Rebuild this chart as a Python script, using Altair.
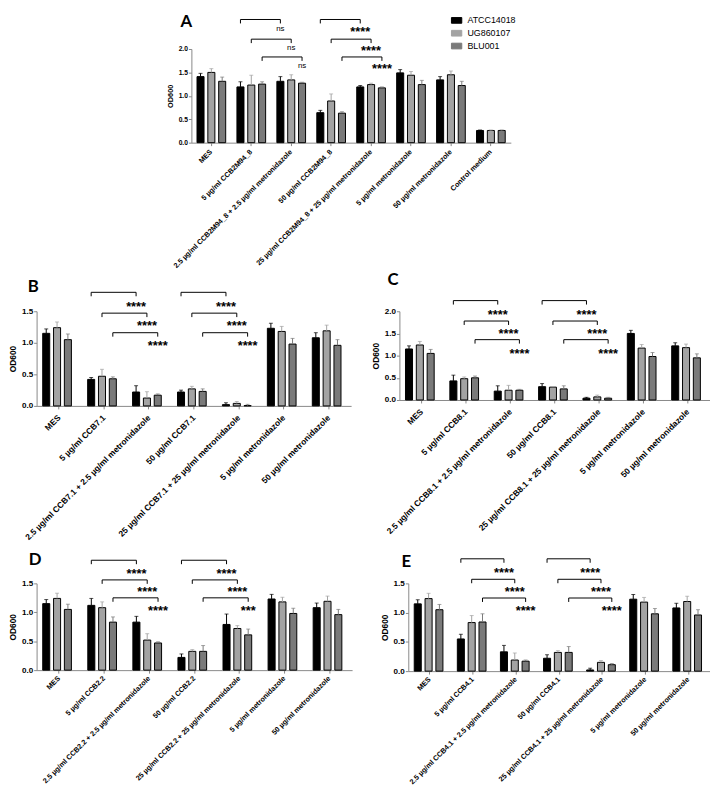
import altair as alt
import pandas as pd

series = ["ATCC14018", "UG860107", "BLU001"]
colors = ["#000000", "#a3a3a3", "#7a7a7a"]

# ---------- Panel A ----------
A_cats = ["MES", "5 µg/ml CCB2M94_8", "2.5 µg/ml CCB2M94_8 + 2.5 µg/ml metronidazole",
          "50 µg/ml CCB2M94_8", "25 µg/ml CCB2M94_8 + 25 µg/ml metronidazole",
          "5 µg/ml metronidazole", "50 µg/ml metronidazole", "Control medium"]
A_atcc = [1.41, 1.19, 1.31, 0.64, 1.19, 1.49, 1.34, 0.26]
A_ug = [1.50, 1.23, 1.34, 0.89, 1.24, 1.44, 1.45, 0.26]
A_blu = [1.31, 1.25, 1.27, 0.63, 1.17, 1.24, 1.22, 0.26]
A_atcc_sd = [0.07, 0.11, 0.10, 0.05, 0.03, 0.07, 0.07, 0.01]
A_ug_sd = [0.08, 0.21, 0.11, 0.15, 0.03, 0.08, 0.08, 0.01]
A_blu_sd = [0.09, 0.05, 0.02, 0.03, 0.02, 0.09, 0.09, 0.01]
A_br_level = [2.63, 2.21, 1.83, 2.63, 2.21, 1.83]
A_br_text_level = [2.42, 2.02, 1.64, 2.42, 2.02, 1.64]
A_br_label = ["ns", "ns", "ns", "****", "****", "****"]

# ---------- Panel B ----------
B_cats = ["MES", "5 µg/ml CCB7.1", "2.5 µg/ml CCB7.1 + 2.5 µg/ml metronidazole",
          "50 µg/ml CCB7.1", "25 µg/ml CCB7.1 + 25 µg/ml metronidazole",
          "5 µg/ml metronidazole", "50 µg/ml metronidazole"]
B_atcc = [1.15, 0.42, 0.22, 0.22, 0.02, 1.23, 1.08]
B_ug = [1.24, 0.47, 0.125, 0.27, 0.04, 1.18, 1.19]
B_blu = [1.05, 0.43, 0.17, 0.23, 0.005, 0.98, 0.96]
B_atcc_sd = [0.07, 0.03, 0.10, 0.03, 0.03, 0.08, 0.08]
B_ug_sd = [0.09, 0.11, 0.10, 0.04, 0.03, 0.08, 0.09]
B_blu_sd = [0.09, 0.03, 0.02, 0.04, 0.02, 0.09, 0.09]
B_br_level = [1.80, 1.47, 1.16, 1.80, 1.47, 1.16]
B_br_text_level = [1.62, 1.31, 0.99, 1.62, 1.31, 0.99]
B_br_label = ["****"] * 6

# ---------- Panel C ----------
C_cats = ["MES", "5 µg/ml CCB8.1", "2.5 µg/ml CCB8.1 + 2.5 µg/ml metronidazole",
          "50 µg/ml CCB8.1", "25 µg/ml CCB8.1 + 25 µg/ml metronidazole",
          "5 µg/ml metronidazole", "50 µg/ml metronidazole"]
C_atcc = [1.15, 0.43, 0.20, 0.30, 0.04, 1.50, 1.22]
C_ug = [1.24, 0.48, 0.22, 0.29, 0.07, 1.17, 1.18]
C_blu = [1.05, 0.50, 0.22, 0.25, 0.04, 0.98, 0.95]
C_atcc_sd = [0.07, 0.13, 0.12, 0.07, 0.02, 0.07, 0.07]
C_ug_sd = [0.08, 0.04, 0.11, 0.01, 0.04, 0.08, 0.08]
C_blu_sd = [0.09, 0.04, 0.02, 0.07, 0.02, 0.09, 0.09]
C_br_level = [2.24, 1.78, 1.36, 2.24, 1.78, 1.36]
C_br_text_level = [1.98, 1.55, 1.11, 1.98, 1.55, 1.11]
C_br_label = ["****"] * 6

# ---------- Panel D ----------
D_cats = ["MES", "5 µg/ml CCB2.2", "2.5 µg/ml CCB2.2 + 2.5 µg/ml metronidazole",
          "50 µg/ml CCB2.2", "25 µg/ml CCB2.2 + 25 µg/ml metronidazole",
          "5 µg/ml metronidazole", "50 µg/ml metronidazole"]
D_atcc = [1.15, 1.12, 0.83, 0.22, 0.79, 1.23, 1.08]
D_ug = [1.24, 1.08, 0.52, 0.325, 0.72, 1.18, 1.19]
D_blu = [1.05, 0.83, 0.47, 0.325, 0.61, 0.98, 0.96]
D_atcc_sd = [0.07, 0.12, 0.10, 0.06, 0.18, 0.08, 0.08]
D_ug_sd = [0.09, 0.10, 0.11, 0.03, 0.05, 0.08, 0.09]
D_blu_sd = [0.09, 0.09, 0.02, 0.10, 0.10, 0.09, 0.09]
D_br_level = [1.90, 1.56, 1.25, 1.90, 1.56, 1.25]
D_br_text_level = [1.71, 1.40, 1.07, 1.71, 1.40, 1.07]
D_br_label = ["****"] * 5 + ["***"]

# ---------- Panel E ----------
E_cats = ["MES", "5 µg/ml CCB4.1", "2.5 µg/ml CCB4.1 + 2.5 µg/ml metronidazole",
          "50 µg/ml CCB4.1", "25 µg/ml CCB4.1 + 25 µg/ml metronidazole",
          "5 µg/ml metronidazole", "50 µg/ml metronidazole"]
E_atcc = [1.15, 0.55, 0.33, 0.22, 0.02, 1.23, 1.08]
E_ug = [1.24, 0.83, 0.19, 0.32, 0.15, 1.18, 1.19]
E_blu = [1.05, 0.84, 0.17, 0.32, 0.11, 0.98, 0.96]
E_atcc_sd = [0.07, 0.08, 0.11, 0.06, 0.03, 0.08, 0.08]
E_ug_sd = [0.09, 0.12, 0.12, 0.03, 0.03, 0.08, 0.09]
E_blu_sd = [0.09, 0.14, 0.02, 0.10, 0.02, 0.09, 0.09]
E_br_level = [1.92, 1.57, 1.25, 1.92, 1.57, 1.25]
E_br_text_level = [1.73, 1.41, 1.08, 1.73, 1.41, 1.08]
E_br_label = ["****"] * 6

# brackets: from group -> to group, same series bar
BR_from = [1, 1, 1, 3, 3, 3]
BR_to = [2, 2, 2, 4, 4, 4]
BR_series = [0, 1, 2, 0, 1, 2]

FONT = "Liberation Sans"


def panel(letter, cats, vals, sds, br_level, br_text_level, br_label,
          w, h, ymax, ticks, letter_pos, fs, legend=None):
    xl, yl, tl, lpad = fs
    rows = []
    for ci, c in enumerate(cats):
        for si, s in enumerate(series):
            rows.append(dict(cat=c, series=s, od=vals[si][ci],
                             top=vals[si][ci] + sds[si][ci]))
    df = pd.DataFrame(rows)

    drop = 4.0 / (h / ymax)
    brows, trows = [], []
    for b in range(len(BR_from)):
        s = series[BR_series[b]]
        c1, c2 = cats[BR_from[b]], cats[BR_to[b]]
        lv = br_level[b]
        for o, (c, y) in enumerate([(c1, lv - drop), (c1, lv), (c2, lv), (c2, lv - drop)]):
            brows.append(dict(bid=b, o=o, cat=c, series=s, y=y))
        trows.append(dict(cat=c2, series=s, y=br_text_level[b], label=br_label[b]))
    dfb = pd.DataFrame(brows)
    dft = pd.DataFrame(trows)
    dfs = dft[dft["label"] != "ns"]
    dfn = dft[dft["label"] == "ns"]

    x = alt.X("cat:N", sort=cats,
              scale=alt.Scale(paddingInner=0.2, paddingOuter=0.1),
              axis=alt.Axis(title=None, labelAngle=-45, labelAlign="right",
                            labelBaseline="middle", labelFontSize=xl,
                            labelFontWeight="bold", labelLimit=400,
                            tickSize=3, labelPadding=lpad, grid=False))
    xo = alt.XOffset("series:N", sort=series,
                     scale=alt.Scale(paddingInner=0.35, paddingOuter=0.15))
    yscale = alt.Scale(domain=[0, ymax], nice=False, zero=True)
    yaxis = alt.Axis(title="OD600", titleFontSize=tl, titleFontWeight="bold",
                     values=ticks, format=".1f", labelFontSize=yl,
                     labelFontWeight="bold", grid=False,
                     tickSize=3, labelPadding=1, titlePadding=4)
    y = alt.Y("od:Q", scale=yscale, axis=yaxis)
    cscale = alt.Scale(domain=series, range=colors)
    col = alt.Color("series:N", scale=cscale, sort=series, legend=legend)
    col2 = alt.Color("series:N", scale=cscale, sort=series, legend=None)

    bars = alt.Chart(df).mark_bar(stroke="black", strokeWidth=1).encode(
        x=x, xOffset=xo, y=y, color=col)
    err = alt.Chart(df).mark_rule(strokeWidth=1).encode(
        x=x, xOffset=xo, y=alt.Y("od:Q", scale=yscale, axis=yaxis), y2="top:Q",
        color=col2)
    cap = alt.Chart(df).mark_tick(thickness=1, size=4).encode(
        x=x, xOffset=xo, y=alt.Y("top:Q", scale=yscale, axis=yaxis), color=col2)
    br = alt.Chart(dfb).mark_line(color="black", strokeWidth=1).encode(
        x=x, xOffset=xo, y=alt.Y("y:Q", scale=yscale, axis=yaxis),
        detail="bid:N", order="o:Q")
    layers = [bars, err, cap, br]
    if len(dfs):
        layers.append(alt.Chart(dfs).mark_text(
            fontSize=13, fontWeight="bold", font=FONT, baseline="middle", dy=3).encode(
            x=x, xOffset=xo, y=alt.Y("y:Q", scale=yscale, axis=yaxis), text="label:N"))
    if len(dfn):
        layers.append(alt.Chart(dfn).mark_text(
            fontSize=8, font=FONT, baseline="middle").encode(
            x=x, xOffset=xo, y=alt.Y("y:Q", scale=yscale, axis=yaxis), text="label:N"))
    lt = alt.Chart(pd.DataFrame({"letter": [letter]})).mark_text(
        fontSize=17, fontWeight="bold", font="Lato", align="left", baseline="top").encode(
        x=alt.value(letter_pos[0]), y=alt.value(letter_pos[1]), text="letter:N")
    layers.append(lt)
    return alt.layer(*layers).properties(
        width=w, height=h,
        view=alt.ViewBackground(stroke="transparent", strokeWidth=0))


legendA = alt.Legend(title=None, orient="none", legendX=263, legendY=-35,
                     symbolType="M-1,-0.55H1V0.55H-1Z", symbolSize=110,
                     symbolStrokeColor="black", symbolStrokeWidth=1,
                     labelFontSize=9, labelFont=FONT, rowPadding=2, labelOffset=5)

FS_A = (7.3, 6.8, 7.5, 5)
FS_B = (8.5, 8.2, 8.5, 7)
FS_D = (7.3, 8.2, 8.5, 4)

pA = panel("A", A_cats, [A_atcc, A_ug, A_blu], [A_atcc_sd, A_ug_sd, A_blu_sd],
           A_br_level, A_br_text_level, A_br_label, 324, 95, 2.0,
           [0, 0.5, 1.0, 1.5, 2.0], (-11, -35), FS_A, legend=legendA)
pB = panel("B", B_cats, [B_atcc, B_ug, B_blu], [B_atcc_sd, B_ug_sd, B_blu_sd],
           B_br_level, B_br_text_level, B_br_label, 319, 96, 1.5,
           [0, 0.5, 1.0, 1.5], (-9, -33), FS_B)
pC = panel("C", C_cats, [C_atcc, C_ug, C_blu], [C_atcc_sd, C_ug_sd, C_blu_sd],
           C_br_level, C_br_text_level, C_br_label, 315, 90, 2.0,
           [0, 0.5, 1.0, 1.5, 2.0], (-12, -40), FS_B)
pD = panel("D", D_cats, [D_atcc, D_ug, D_blu], [D_atcc_sd, D_ug_sd, D_blu_sd],
           D_br_level, D_br_text_level, D_br_label, 320, 88, 1.5,
           [0, 0.5, 1.0, 1.5], (-8, -32), FS_D)
pE = panel("E", E_cats, [E_atcc, E_ug, E_blu], [E_atcc_sd, E_ug_sd, E_blu_sd],
           E_br_level, E_br_text_level, E_br_label, 306, 89, 1.5,
           [0, 0.5, 1.0, 1.5], (-7, -30), FS_D)

spacer = alt.Chart(pd.DataFrame({"v": [0]})).mark_text(text=" ", opacity=0).encode(
    x=alt.value(0), y=alt.value(0)).properties(
    width=131, height=10,
    view=alt.ViewBackground(stroke="transparent", strokeWidth=0))

row1 = alt.hconcat(spacer, pA, spacing=0).resolve_scale(color="independent")
row2 = alt.hconcat(pB, pC, spacing=20).resolve_scale(color="independent")
row3 = alt.hconcat(pD, pE, spacing=28).resolve_scale(color="independent")

lower = alt.vconcat(row2, row3, spacing=9).resolve_scale(color="independent")
chart = alt.vconcat(row1, lower, spacing=1).resolve_scale(
    color="independent").properties(
    padding={"left": 0, "top": 0, "right": 0, "bottom": 0}
).configure_view(stroke="transparent", strokeWidth=0).configure_axis(
    grid=False, domainColor="black", tickColor="black",
    labelColor="black", titleColor="black", labelFont=FONT, titleFont=FONT,
    domainWidth=1
).configure(background="white")

chart.save("out.html", embed_options={"renderer": "svg", "actions": False})
